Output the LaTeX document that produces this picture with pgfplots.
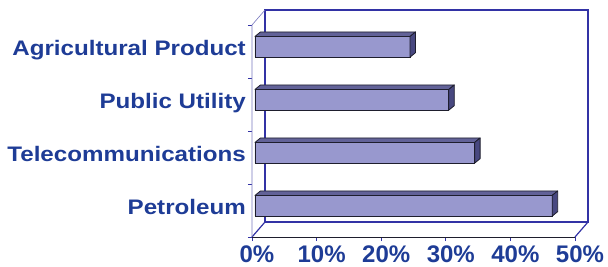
\documentclass[border=0pt]{standalone}
\usepackage{pgfplots}
\pgfplotsset{compat=1.18}
\usepackage{fontspec}
\setmainfont{Liberation Sans}
\newfontfamily\catfont{Liberation Sans}[FakeStretch=1.15]
\definecolor{txtblue}{RGB}{30,60,150}
\definecolor{frameblue}{RGB}{50,50,165}
\definecolor{wallline}{RGB}{120,120,190}
\definecolor{barfront}{RGB}{152,152,206}
\definecolor{bartop}{RGB}{98,98,152}
\definecolor{barside}{RGB}{72,72,128}
\definecolor{barline}{RGB}{30,30,45}
\begin{document}
\begin{tikzpicture}
\useasboundingbox (-252bp,-30bp) rectangle (356bp,237bp);
\begin{axis}[
  at={(0,0)}, anchor=south west,
  scale only axis, width=323bp, height=212bp,
  xmin=0, xmax=50, ymin=-0.5, ymax=3.5,
  axis line style={draw=none},
  clip=false,
  tick align=outside,
  tick pos=left,
  major tick length=4bp,
  tick style={line width=0.6bp, color=frameblue},
  xtick={0,10,...,50},
  xticklabel={\pgfmathprintnumber{\tick}\%},
  /pgf/number format/assume math mode=true,
  xticklabel style={font=\fontsize{24bp}{28bp}\selectfont\bfseries, text=txtblue, anchor=base, xshift=5bp, yshift=-21.5bp},
  ytick={-0.5,0.5,1.5,2.5,3.5},
  yticklabels={,,,,,},
  extra y ticks={0,1,2,3},
  extra y tick labels={Petroleum,Telecommunications,Public Utility,Agricultural Product},
  extra y tick style={major tick length=0pt, yticklabel style={font=\catfont\fontsize{21bp}{25bp}\selectfont\bfseries, text=txtblue, anchor=base east, inner sep=0pt, xshift=-6bp, yshift=-3.5bp}},
]
% back wall
\draw[frameblue, line width=1.4bp] ([shift={(13bp,15bp)}]axis cs:0,-0.5) rectangle ([shift={(13bp,15bp)}]axis cs:50,3.5);
% floor sides
\draw[frameblue, line width=1.2bp] (axis cs:0,-0.5) -- ([shift={(13bp,15bp)}]axis cs:0,-0.5);
\draw[frameblue, line width=1.2bp] (axis cs:50,-0.5) -- ([shift={(13bp,15bp)}]axis cs:50,-0.5);
% left wall
\draw[wallline, line width=0.6bp] (axis cs:0,-0.5) -- (axis cs:0,3.5) -- ([shift={(13bp,15bp)}]axis cs:0,3.5);
% floor front
\draw[barline, line width=1bp] (axis cs:0,-0.5) -- (axis cs:50,-0.5);

\addplot[xbar, bar width=20.7bp, bar shift=4.7bp, xshift=3bp, fill=barfront, draw=barline, line width=0.8bp]
  coordinates {(46,0) (34,1) (30,2) (24,3)};
\addplot[scatter, only marks, xshift=3bp, mark=*, mark size=0pt, mark options={draw=none,fill=none},
  visualization depends on={rawx \as \val},
  scatter/@pre marker code/.code={%
    \pgfmathsetmacro\L{\val*6.46}%
    \filldraw[fill=bartop, draw=barline, line width=0.8bp, line join=round] (0bp,15.05bp) -- (-\L bp,15.05bp) -- (-\L bp+5.5bp,19.55bp) -- (5.5bp,19.55bp) -- cycle;
    \filldraw[fill=barside, draw=barline, line width=0.8bp, line join=round] (0bp,15.05bp) -- (0bp,-5.65bp) -- (5.5bp,-1.15bp) -- (5.5bp,19.55bp) -- cycle;
  },
  scatter/@post marker code/.code={}
] coordinates {(46,0) (34,1) (30,2) (24,3)};
\end{axis}
\end{tikzpicture}
\end{document}
